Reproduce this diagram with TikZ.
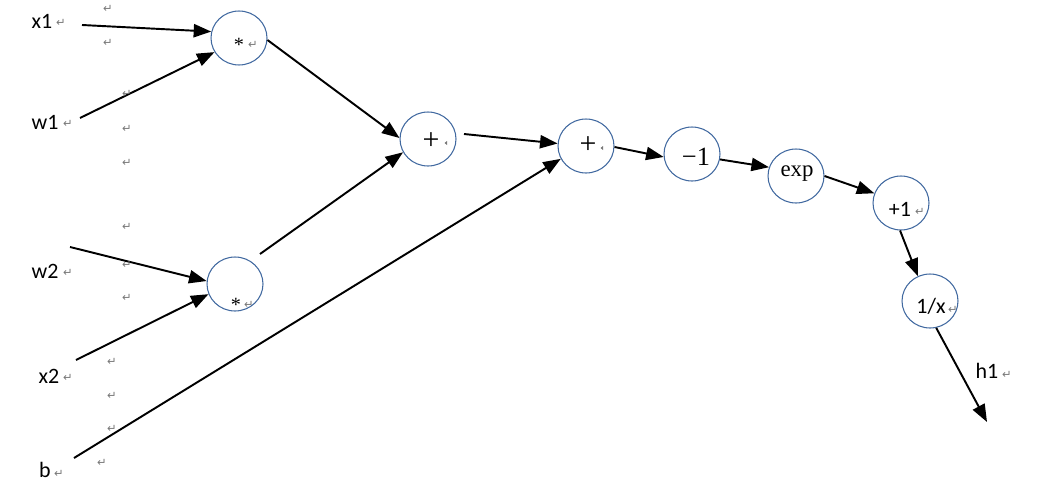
\documentclass[tikz,border=0pt]{standalone}
\usepackage{fontspec}
\setmainfont{Liberation Serif}
\newfontfamily\calfont{Carlito}
\newfontfamily\markfont{DejaVu Sans}
\usetikzlibrary{arrows.meta,shapes.geometric}
\definecolor{ringblue}{RGB}{65,105,160}
\definecolor{markgray}{RGB}{120,120,120}
\tikzset{
  opnode/.style={ellipse,draw=ringblue,line width=0.6pt,minimum width=1.12cm,minimum height=1.08cm,inner sep=0pt},
  lbl/.style={font=\calfont\fontsize{12.5}{12.5}\selectfont,inner sep=0pt},
  optext/.style={font=\fontsize{13}{13}\selectfont,inner sep=0pt},
  opbig/.style={font=\fontsize{15}{15}\selectfont,inner sep=0pt},
  opplus/.style={font=\fontsize{17}{17}\selectfont,inner sep=0pt},
  opstar/.style={font=\fontsize{11.5}{11.5}\selectfont,inner sep=0pt},
  opsans/.style={font=\calfont\fontsize{12.5}{12.5}\selectfont,inner sep=0pt},
  pmark/.style={font=\markfont\fontsize{6.5}{6.5}\selectfont,text=markgray,inner sep=0pt},
  conn/.style={line width=1.1pt,-{Triangle[length=10pt,width=7.5pt]}}
}
\begin{document}
\begin{tikzpicture}[x=0.02cm,y=-0.02cm]
\useasboundingbox (0,0) rectangle (1050,490);
% operation circles
\node[opnode] (m1) at (239,38) {};
\node[opnode] (m2) at (235,284) {};
\node[opnode] (a1) at (428,139) {};
\node[opnode] (a2) at (586,146) {};
\node[opnode] (n1) at (692,154) {};
\node[opnode] (ex) at (796,176) {};
\node[opnode] (p1) at (901,203) {};
\node[opnode] (inv) at (930,301) {};
% texts in circles
\node[opstar] (m1t) at (239,45) {*};
\node[opstar] (m2t) at (236,305) {*};
\node[opplus] (a1t) at (431,141) {+};
\node[opplus] (a2t) at (588,145) {+};
\node[opbig] (n1t) at (696,157) {−1};
\node[optext] (ext) at (797,174) {exp};
\node[opsans] (p1t) at (900,209) {+1};
\node[opsans] (invt) at (931,306) {1/x};
% input labels
\node[lbl] (x1) at (42,21) {x1};
\node[lbl] (w1) at (45,122) {w1};
\node[lbl] (w2) at (45,271) {w2};
\node[lbl] (x2) at (49,376) {x2};
\node[lbl] (b) at (45,470) {b};
\node[lbl] (h1) at (987,371) {h1};
% connector free ends
\coordinate (x1s) at (82,25);
\coordinate (w1s) at (80,118);
\coordinate (w2s) at (70,247);
\coordinate (x2s) at (76,360);
\coordinate (bs) at (74,458);
\coordinate (m2s) at (260,254);
\coordinate (a1s) at (464,134);
\coordinate (out) at (987,422);
% connectors
\draw[conn] (x1s) -- (m1.167);
\draw[conn] (w1s) -- (m1.210);
\draw[conn] (w2s) -- (m2.174);
\draw[conn] (x2s) -- (m2.201);
\draw[conn] (bs) -- (a2.207);
\draw[conn] (m1.356) -- (a1.178);
\draw[conn] (m2s) -- (a1.208);
\draw[conn] (a1s) -- (a2.175);
\draw[conn] (a2.358) -- (n1.186);
\draw[conn] (n1.349) -- (ex.162);
\draw[conn] (ex.0) -- (p1.160);
\draw[conn] (p1.268) -- (inv.116);
\draw[conn] (inv.283) -- (out);
% paragraph marks
\foreach \p in {(61,23),(68,124),(68,273),(68,378),(59,474),(1007,375),
  (253,45),(249,305),(920,212),(953,310),
  (108,9),(108,43),(127,94),(127,129),(127,163),(127,227),(127,265),(127,298),
  (112,362),(112,396),(112,429),(102,463)}
  \node[pmark] at \p {↵};
\fill[markgray] (447,141) -- (447,145) -- (444.5,143) -- cycle;
\fill[markgray] (603,146) -- (603,150) -- (600.5,148) -- cycle;
\end{tikzpicture}
\end{document}
